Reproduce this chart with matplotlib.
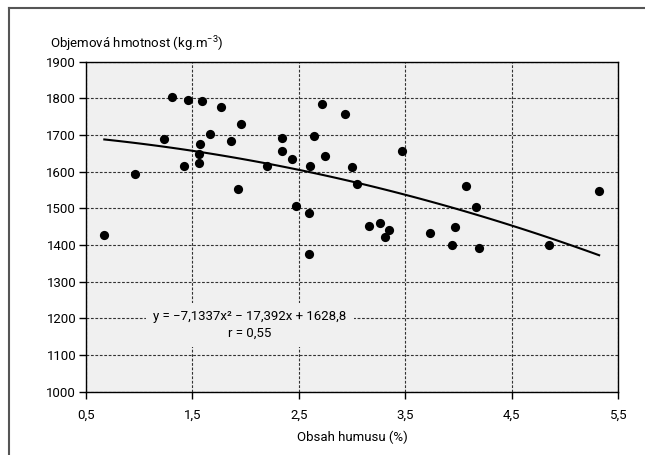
import matplotlib
matplotlib.use('Agg')
import matplotlib.pyplot as plt
from matplotlib.lines import Line2D
import numpy as np

# humus content (%) vs bulk density (kg/m3)
humus = [0.672, 0.96, 1.236, 1.308, 1.418, 1.455, 1.559, 1.561, 1.571, 1.59,
         1.665, 1.768, 1.859, 1.931, 1.956, 2.197, 2.341, 2.341, 2.435, 2.473,
         2.592, 2.59, 2.607, 2.642, 2.717, 2.745, 2.933, 2.996, 3.043, 3.16,
         3.26, 3.312, 3.346, 3.472, 3.732, 3.941, 3.966, 4.067, 4.167, 4.192,
         4.849, 5.32]
density = [1427, 1593, 1688, 1803, 1616, 1795, 1647, 1623, 1676, 1794,
           1703, 1776, 1684, 1552, 1730, 1616, 1691, 1657, 1634, 1506,
           1488, 1376, 1616, 1698, 1785, 1643, 1758, 1614, 1567, 1451,
           1459, 1421, 1441, 1656, 1432, 1399, 1449, 1560, 1504, 1391,
           1399, 1547]

# quadratic trend as drawn in the picture
trend_coef = [-8.0, -20.0, 1705.0]

x_ticks = [0.5, 1.5, 2.5, 3.5, 4.5, 5.5]
x_labels = ['0,5', '1,5', '2,5', '3,5', '4,5', '5,5']
y_ticks = list(range(1000, 1901, 100))

plt.rcParams['font.family'] = ['Roboto', 'DejaVu Sans']
plt.rcParams['mathtext.fontset'] = 'custom'
plt.rcParams['mathtext.rm'] = 'Roboto'
plt.rcParams['mathtext.it'] = 'Roboto'
plt.rcParams['font.size'] = 9.5

fig = plt.figure(figsize=(6.45, 4.55), dpi=100)
ax = fig.add_axes([86 / 645, 1 - 391.7 / 455, (618.3 - 86) / 645, (391.7 - 61.7) / 455])
ax.set_facecolor('#f0f0f0')

ax.scatter(humus, density, s=44, color='black', zorder=3, linewidths=0)

xs = np.linspace(min(humus), max(humus), 100)
ax.plot(xs, np.polyval(trend_coef, xs), color='black', lw=1.5, zorder=3)

ax.set_xlim(0.5, 5.5)
ax.set_ylim(1000, 1900)
ax.set_xticks(x_ticks)
ax.set_xticklabels(x_labels)
ax.set_yticks(y_ticks)
ax.tick_params(axis='both', direction='out', length=5, width=1, color='black', labelsize=9.5)
ax.tick_params(axis='x', pad=7)
ax.tick_params(axis='y', pad=2)
ax.grid(True, color='#333333', linestyle=(0, (2.5, 1.5)), linewidth=0.8)
ax.set_axisbelow(True)
for sp in ax.spines.values():
    sp.set_color('black')
    sp.set_linewidth(1)

ax.set_xlabel('Obsah humusu (%)', fontsize=9.5, labelpad=7)
fig.text(50 / 645, 1 - 44 / 455, 'Objemová hmotnost (kg.m$^{-3}$)', fontsize=9.5,
         ha='left', va='center')

ax.text(2.04, 1182, 'y = \u22127,1337x\u00b2 \u2212 17,392x + 1628,8\nr = 0,55',
        ha='center', va='center', fontsize=9.5, linespacing=1.35, zorder=4,
        bbox=dict(facecolor='#f0f0f0', edgecolor='none', pad=5))

# outer frame (cropped at right and bottom)
fig.add_artist(Line2D([9 / 645, 1], [1 - 8 / 455, 1 - 8 / 455], color='#555555', lw=1.5))
fig.add_artist(Line2D([9 / 645, 9 / 645], [0, 1 - 8 / 455], color='#555555', lw=1.5))

fig.savefig('out.png', dpi=100)
